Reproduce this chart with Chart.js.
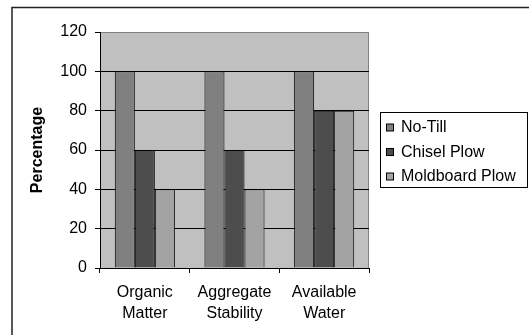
<!DOCTYPE html>
<html>
<head>
<meta charset="utf-8">
<script src="https://cdn.jsdelivr.net/npm/chart.js@4/dist/chart.umd.min.js"></script>
<style>
    html, body { margin: 0; padding: 0; background: #fff; }
    #wrap { width: 529px; height: 335px; position: relative; }
</style>
</head>
<body>
<div id="wrap"><canvas id="tillageChart"></canvas></div>
<script>
// data
const categories = [['Organic', 'Matter'], ['Aggregate', 'Stability'], ['Available', 'Water']];
const seriesNames = ['No-Till', 'Chisel Plow', 'Moldboard Plow'];
const noTill = [100, 100, 100];
const chiselPlow = [60, 60, 80];
const moldboardPlow = [40, 40, 80];
const yTicks = [0, 20, 40, 60, 80, 100, 120];

const barColors = ['#808080', '#4d4d4d', '#a3a3a3'];
const fontFamily = 'Arial, "Liberation Sans", sans-serif';

// grey plot area + outer frame
const plotBackground = {
    id: 'plotBackground',
    beforeDraw(chart) {
        const { ctx, chartArea: a } = chart;
        ctx.save();
        ctx.fillStyle = '#c0c0c0';
        ctx.fillRect(a.left, a.top, a.right - a.left, a.bottom - a.top);
        ctx.strokeStyle = '#808080';
        ctx.lineWidth = 1;
        ctx.beginPath();
        ctx.moveTo(a.left, a.top + 0.5);
        ctx.lineTo(a.right - 0.5, a.top + 0.5);
        ctx.lineTo(a.right - 0.5, a.bottom);
        ctx.stroke();
        // outer chart frame (top and left edges only visible)
        ctx.strokeStyle = '#222';
        ctx.lineWidth = 1.5;
        ctx.beginPath();
        ctx.moveTo(12, chart.height);
        ctx.lineTo(12, 7.5);
        ctx.lineTo(chart.width, 7.5);
        ctx.stroke();
        ctx.restore();
    }
};

// Excel-like boxed legend on the right
const boxLegend = {
    id: 'boxLegend',
    afterDraw(chart) {
        const { ctx } = chart;
        const x = 380.5, y = 112.5, w = 147, h = 75;
        ctx.save();
        ctx.fillStyle = '#fff';
        ctx.fillRect(x, y, w, h);
        ctx.strokeStyle = '#000';
        ctx.lineWidth = 1;
        ctx.strokeRect(x, y, w, h);
        ctx.font = '16px ' + fontFamily;
        ctx.textBaseline = 'middle';
        chart.data.datasets.forEach((ds, i) => {
            const cy = 128 + i * 24.5;
            ctx.fillStyle = ds.backgroundColor;
            ctx.fillRect(386.5, cy - 4, 7, 7);
            ctx.strokeRect(386.5, cy - 4, 7, 7);
            ctx.fillStyle = '#000';
            ctx.fillText(ds.label, 401, cy);
        });
        ctx.restore();
    }
};

const seriesData = [noTill, chiselPlow, moldboardPlow];

new Chart(document.getElementById('tillageChart').getContext('2d'), {
    type: 'bar',
    data: {
        labels: categories,
        datasets: seriesNames.map((name, i) => ({
            label: name,
            data: seriesData[i],
            backgroundColor: barColors[i],
            borderColor: '#000',
            borderWidth: 1,
            barPercentage: 1,
            categoryPercentage: 0.67
        }))
    },
    options: {
        responsive: true,
        maintainAspectRatio: false,
        animation: false,
        layout: { padding: { left: 0, top: 32, right: 160, bottom: 0 } },
        plugins: {
            legend: { display: false },
            tooltip: { enabled: false }
        },
        scales: {
            x: {
                afterFit: s => { s.height = 67; },
                border: { color: '#000', width: 1 },
                grid: { drawOnChartArea: false, drawTicks: true, tickLength: 5, tickColor: '#000' },
                ticks: {
                    color: '#000',
                    font: { family: fontFamily, size: 16, lineHeight: 1.3 },
                    padding: 9,
                    maxRotation: 0
                }
            },
            y: {
                min: 0,
                max: 120,
                afterFit: s => { s.width = 100; },
                afterBuildTicks: s => { s.ticks = yTicks.map(v => ({ value: v })); },
                border: { color: '#000', width: 1 },
                grid: {
                    color: ctx => ctx.tick && ctx.tick.value === 120 ? '#808080' : '#000',
                    tickColor: '#000',
                    tickLength: 5,
                    lineWidth: 1
                },
                ticks: {
                    color: '#000',
                    font: { family: fontFamily, size: 16 },
                    padding: 8
                },
                title: {
                    display: true,
                    text: 'Percentage',
                    color: '#000',
                    font: { family: fontFamily, size: 16, weight: 'bold' },
                    padding: { top: 28, bottom: 0 }
                }
            }
        }
    },
    plugins: [plotBackground, boxLegend]
});
</script>
</body>
</html>
